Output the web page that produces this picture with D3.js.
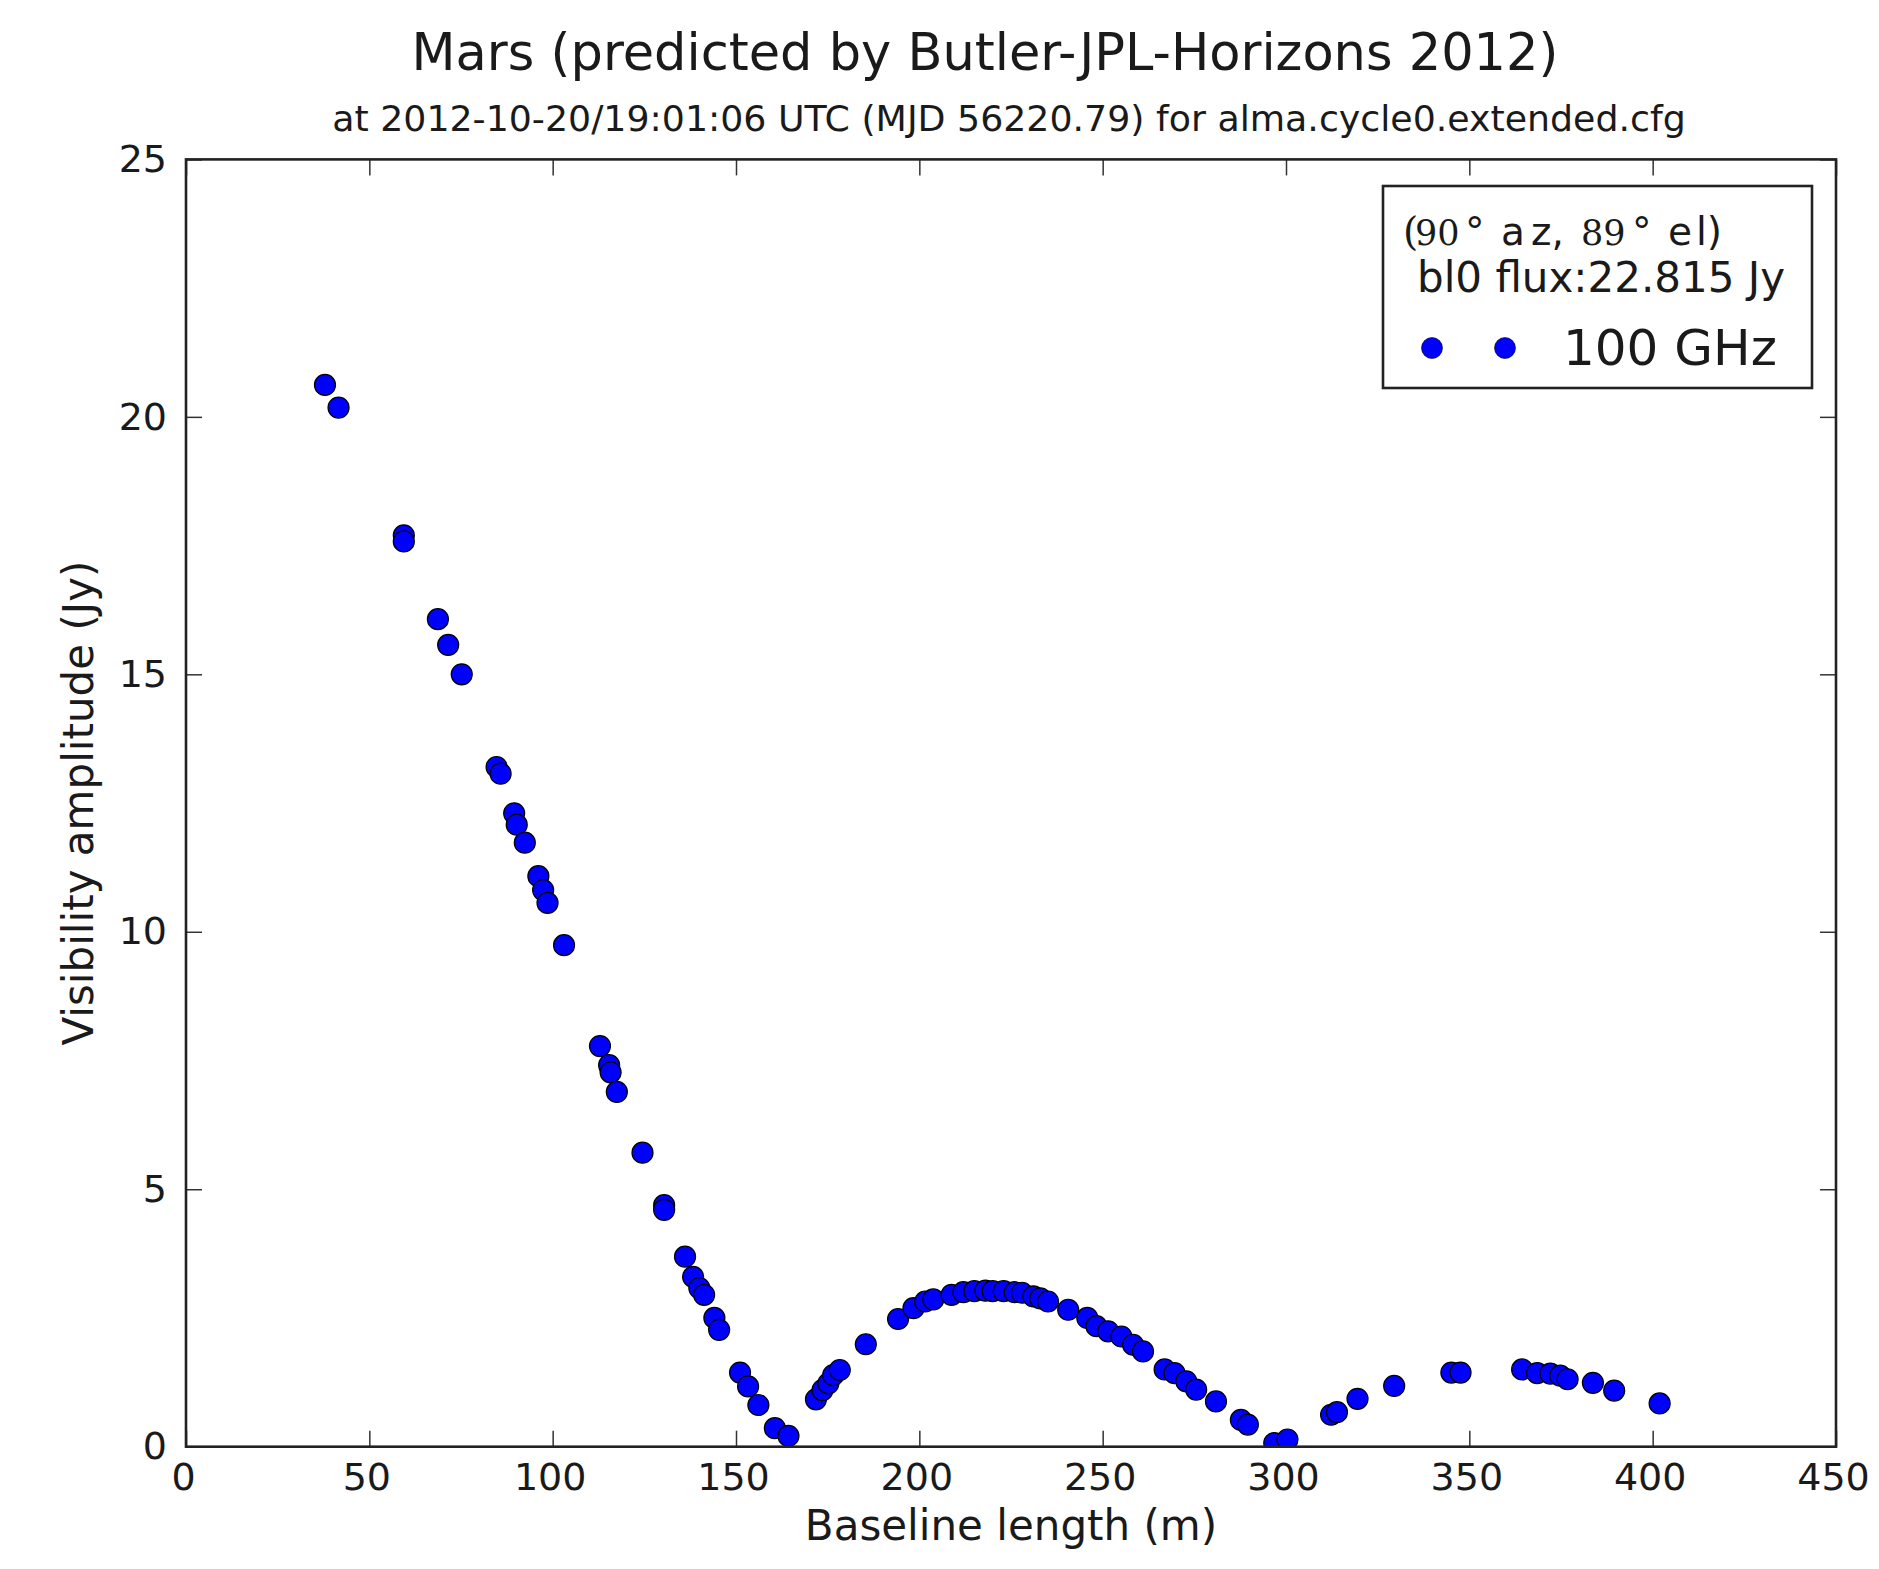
<!DOCTYPE html>
<html>
<head>
<meta charset="utf-8">
<script src="https://cdnjs.cloudflare.com/ajax/libs/d3/7.8.5/d3.min.js"></script>
<style>
  body { margin: 0; background: #fff; }
  text { font-family: "DejaVu Sans", sans-serif; fill: #1a1a1a; }
</style>
</head>
<body>
<script>
'use strict';

// values (baseline in m, amplitude in Jy)
const baselineLength = [
  37.9, 41.6, 59.4, 59.4, 68.7, 71.5, 75.2, 84.7, 85.8, 89.5,
  90.2, 92.4, 96.1, 97.4, 98.6, 103.1, 112.9, 115.4, 115.8, 117.5,
  124.5, 130.4, 130.4, 136.1, 138.3, 140.0, 141.3, 144.1, 145.4, 151.1,
  153.3, 156.1, 160.6, 164.3, 171.8, 173.6, 175.2, 176.5, 178.3, 185.4,
  194.2, 198.4, 201.6, 203.8, 208.8, 212.0, 215.0, 218.0, 220.0, 223.0,
  226.0, 228.0, 231.1, 233.0, 235.1, 240.6, 245.8, 248.3, 251.5, 255.1,
  258.3, 261.0, 266.9, 269.6, 272.8, 275.5, 280.9, 287.7, 289.6, 296.8,
  300.4, 312.3, 313.9, 319.5, 329.5, 345.1, 347.6, 364.4, 368.5, 372.1,
  374.8, 376.8, 383.7, 389.5, 401.9
];
const visAmplitude = [
  20.62, 20.18, 17.70, 17.58, 16.07, 15.57, 15.00, 13.20, 13.07, 12.30,
  12.08, 11.73, 11.08, 10.81, 10.56, 9.74, 7.78, 7.41, 7.27, 6.89,
  5.71, 4.69, 4.60, 3.69, 3.30, 3.08, 2.95, 2.50, 2.27, 1.44,
  1.17, 0.81, 0.36, 0.21, 0.92, 1.10, 1.23, 1.39, 1.49, 1.99,
  2.48, 2.69, 2.82, 2.86, 2.95, 3.00, 3.02, 3.03, 3.02, 3.02,
  3.00, 2.99, 2.92, 2.88, 2.82, 2.66, 2.50, 2.34, 2.24, 2.14,
  1.98, 1.85, 1.50, 1.43, 1.27, 1.11, 0.88, 0.52, 0.43, 0.07,
  0.14, 0.62, 0.67, 0.93, 1.18, 1.44, 1.44, 1.50, 1.43, 1.42,
  1.38, 1.31, 1.24, 1.09, 0.84
];

const xTicks = [0, 50, 100, 150, 200, 250, 300, 350, 400, 450];
const yTicks = [0, 5, 10, 15, 20, 25];

const titleText = "Mars (predicted by Butler-JPL-Horizons 2012)";
const subtitleText = "at 2012-10-20/19:01:06 UTC (MJD 56220.79) for alma.cycle0.extended.cfg";
const xLabel = "Baseline length (m)";
const yLabel = "Visibility amplitude (Jy)";
const fluxText = "bl0 flux:22.815 Jy";
const seriesName = "100 GHz";

(function() {

  const W = 1879, H = 1569;
  const left = 186, right = 1836, top = 159.4, bottom = 1446.7;

  let svgContainer = d3.select('body')
    .append('svg')
    .attr('width', W)
    .attr('height', H);

  let x = d3.scaleLinear().domain([0, 450]).range([left, right]);
  let y = d3.scaleLinear().domain([0, 25]).range([bottom, top]);

  // clip the points to the axes box like matplotlib does
  svgContainer.append('clipPath')
    .attr('id', 'plotclip')
    .append('rect')
    .attr('x', left)
    .attr('y', top)
    .attr('width', right - left)
    .attr('height', bottom - top);

  // axes, ticks pointing inwards on all four sides
  let tickLen = 16;

  let bottomAxis = svgContainer.append('g')
    .attr('transform', 'translate(0,' + bottom + ')')
    .call(d3.axisBottom(x).tickValues(xTicks).tickSize(-tickLen).tickPadding(16));

  bottomAxis.selectAll('text')
    .attr('dx', '-3')
    .style('font-size', '38px');

  svgContainer.append('g')
    .attr('transform', 'translate(0,' + top + ')')
    .call(d3.axisTop(x).tickValues(xTicks).tickSize(-tickLen).tickFormat(''));

  let leftAxis = svgContainer.append('g')
    .attr('transform', 'translate(' + left + ',0)')
    .call(d3.axisLeft(y).tickValues(yTicks).tickSize(-tickLen).tickPadding(19));

  leftAxis.selectAll('text')
    .style('font-size', '38px');

  svgContainer.append('g')
    .attr('transform', 'translate(' + right + ',0)')
    .call(d3.axisRight(y).tickValues(yTicks).tickSize(-tickLen).tickFormat(''));

  svgContainer.selectAll('.domain').remove();
  svgContainer.selectAll('.tick line')
    .attr('stroke', '#333')
    .attr('stroke-width', 1.5);
  svgContainer.selectAll('.tick text')
    .attr('fill', '#1a1a1a')
    .style('font-family', '"DejaVu Sans", sans-serif');

  // data points
  svgContainer.append('g')
    .attr('clip-path', 'url(#plotclip)')
    .selectAll('circle')
    .data(baselineLength)
    .enter()
    .append('circle')
    .attr('cx', (d) => x(d))
    .attr('cy', (d, i) => y(visAmplitude[i]))
    .attr('r', 10.5)
    .attr('fill', '#0000ff')
    .attr('stroke', '#000')
    .attr('stroke-width', 1.2);

  // frame
  svgContainer.append('rect')
    .attr('x', left)
    .attr('y', top)
    .attr('width', right - left)
    .attr('height', bottom - top)
    .attr('fill', 'none')
    .attr('stroke', '#222')
    .attr('stroke-width', 2.6);

  // titles and axis labels
  svgContainer.append('text')
    .attr('x', 985)
    .attr('y', 70)
    .attr('text-anchor', 'middle')
    .style('font-size', '51px')
    .text(titleText);

  svgContainer.append('text')
    .attr('x', 1009)
    .attr('y', 131)
    .attr('text-anchor', 'middle')
    .style('font-size', '36.3px')
    .text(subtitleText);

  svgContainer.append('text')
    .attr('x', (left + right) / 2)
    .attr('y', 1540)
    .attr('text-anchor', 'middle')
    .style('font-size', '42px')
    .text(xLabel);

  svgContainer.append('text')
    .attr('transform', 'translate(93,' + ((top + bottom) / 2) + ')rotate(-90)')
    .attr('text-anchor', 'middle')
    .style('font-size', '42px')
    .text(yLabel);

  // legend box
  let legend = svgContainer.append('g');

  legend.append('rect')
    .attr('x', 1383)
    .attr('y', 186)
    .attr('width', 429)
    .attr('height', 202)
    .attr('fill', '#fff')
    .attr('stroke', '#222')
    .attr('stroke-width', 2.6);

  // "(90° az, 89° el)" with mathtext-looking serif numbers
  let azel = legend.append('text')
    .attr('y', 245)
    .style('font-size', '39px');
  let serif = '"DejaVu Serif", serif';
  azel.append('tspan').attr('x', 1403).style('font-family', serif).text('(');
  azel.append('tspan').attr('x', 1415).style('font-family', serif).style('font-size', '35px').text('90');
  azel.append('tspan').attr('x', 1465).text('\u00b0');
  azel.append('tspan').attr('x', 1501).text('a');
  azel.append('tspan').attr('x', 1531).text('z,');
  azel.append('tspan').attr('x', 1581).style('font-family', serif).style('font-size', '35px').text('89');
  azel.append('tspan').attr('x', 1632).text('\u00b0');
  azel.append('tspan').attr('x', 1668).text('e');
  azel.append('tspan').attr('x', 1696).text('l)');

  legend.append('text')
    .attr('x', 1417)
    .attr('y', 292)
    .style('font-size', '42px')
    .text(fluxText);

  legend.selectAll('.legdot')
    .data([1432, 1505])
    .enter()
    .append('circle')
    .attr('class', 'legdot')
    .attr('cx', (d) => d)
    .attr('cy', 348)
    .attr('r', 10.5)
    .attr('fill', '#0000ff')
    .attr('stroke', '#000')
    .attr('stroke-width', 0.6);

  legend.append('text')
    .attr('x', 1563)
    .attr('y', 365)
    .style('font-size', '50px')
    .text(seriesName);

})();
</script>
</body>
</html>
